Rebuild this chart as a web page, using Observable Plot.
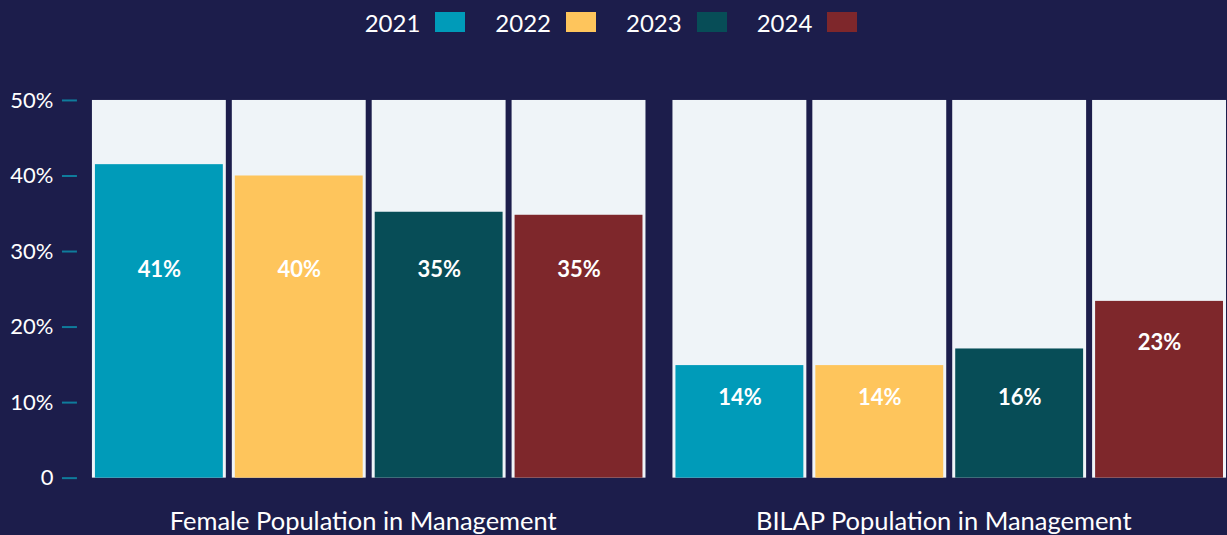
<!DOCTYPE html>
<html><head><meta charset="utf-8">
<script src="https://cdn.jsdelivr.net/npm/d3@7"></script>
<script src="https://cdn.jsdelivr.net/npm/@observablehq/plot@0.6"></script>
<style>
html,body{margin:0;padding:0;background:#1c1d4b;overflow:hidden;width:1227px;height:535px}
#legend{height:44px;display:flex;justify-content:center;align-items:center;font-family:Lato,sans-serif;font-size:24px;color:#fff;padding-right:5px;box-sizing:border-box}
.item{display:flex;align-items:center;margin:0 15px}
.sw{width:30px;height:20px;margin-left:15px;display:inline-block}
#chart svg{display:block}
</style></head><body>
<div id="legend"></div><div id="chart"></div>
<script>
const groups = ["Female Population in Management", "BILAP Population in Management"];
const years = ["2021", "2022", "2023", "2024"];
const colors = ["#009bb9", "#fec55c", "#074d57", "#7e272b"];
const femaleValues = [41.5, 40.0, 35.2, 34.8];
const bilapValues = [14.9, 14.9, 17.1, 23.4];
const femaleLabels = ["41%", "40%", "35%", "35%"];
const bilapLabels = ["14%", "14%", "16%", "23%"];
const femaleLabelAt = [27.5, 27.5, 27.5, 27.5];
const bilapLabelAt = [10.6, 10.6, 10.6, 17.9];
const yTicks = [0, 10, 20, 30, 40, 50];
const yMax = 50;

const rows = [];
years.forEach((yr, i) => {
  rows.push({group: groups[0], year: yr, value: femaleValues[i], label: femaleLabels[i], at: femaleLabelAt[i], full: yMax});
});
years.forEach((yr, i) => {
  rows.push({group: groups[1], year: yr, value: bilapValues[i], label: bilapLabels[i], at: bilapLabelAt[i], full: yMax});
});

const legend = document.getElementById("legend");
years.forEach((yr, i) => {
  const it = document.createElement("div");
  it.className = "item";
  it.innerHTML = `<span>${yr}</span><span class="sw" style="background:${colors[i]}"></span>`;
  legend.appendChild(it);
});

const chart = Plot.plot({
  width: 1228,
  height: 491,
  marginLeft: 91,
  marginRight: 0,
  marginTop: 56,
  marginBottom: 57,
  style: {background: "transparent", color: "#fff", fontFamily: "Lato, sans-serif", overflow: "visible"},
  fx: {domain: groups, paddingInner: 25 / 581, paddingOuter: 0, label: null},
  x: {domain: years, paddingInner: 6 / 140.5, paddingOuter: 0, axis: null},
  y: {domain: [0, yMax]},
  color: {domain: years, range: colors},
  marks: [
    Plot.barY(rows, {fx: "group", x: "year", y: "full", fill: "#eff4f8"}),
    Plot.barY(rows, {fx: "group", x: "year", y: "value", fill: "year", insetLeft: 3, insetRight: 3}),
    Plot.text(rows, {fx: "group", x: "year", y: "at", text: "label", fill: "#fff", fontWeight: 700, fontSize: 22}),
    Plot.axisY({ticks: yTicks, tickFormat: d => d === 0 ? "0" : d + "%", tickSize: 15, tickPadding: 9, dx: -14,
      stroke: "#0f7c9c", strokeWidth: 2, fill: "#fff", fontSize: 22, anchor: "left", label: null}),
    Plot.axisFx({anchor: "bottom", tickSize: 0, tickPadding: 34, dx: -6, fontSize: 25.5, fill: "#fff", label: null})
  ]
});
document.getElementById("chart").appendChild(chart);
</script>
</body></html>
